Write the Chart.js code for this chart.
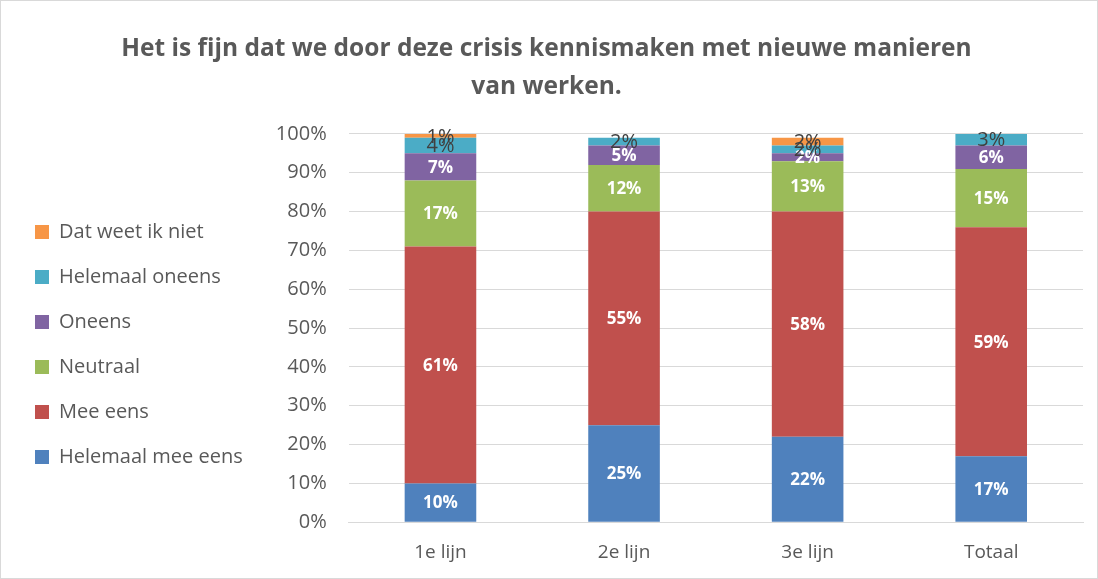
<!DOCTYPE html>
<html>
<head>
<meta charset="utf-8">
<script src="https://cdn.jsdelivr.net/npm/chart.js@4/dist/chart.umd.min.js"></script>
<style>
  html, body { margin: 0; padding: 0; background: #fff; }
  #wrap { position: relative; width: 1096px; height: 577px; border: 1px solid #d9d9d9; }
</style>
</head>
<body>
<div id="wrap"><canvas id="chart"></canvas></div>
<script>
const categories = ["1e lijn", "2e lijn", "3e lijn", "Totaal"];
const helemaalMeeEens = [10, 25, 22, 17];
const meeEens = [61, 55, 58, 59];
const neutraal = [17, 12, 13, 15];
const oneens = [7, 5, 2, 6];
const helemaalOneens = [4, 2, 2, 3];
const datWeetIkNiet = [1, 0, 2, 0];
const yTicks = [0, 10, 20, 30, 40, 50, 60, 70, 80, 90, 100];

const segmentLabels = {
    id: "segmentLabels",
    afterDatasetsDraw(chart) {
        const ctx = chart.ctx;
        chart.data.datasets.forEach(function (ds, i) {
            const meta = chart.getDatasetMeta(i);
            meta.data.forEach(function (bar, j) {
                const v = ds.data[j];
                if (!v) return;
                const y = (bar.y + bar.base) / 2;
                ctx.save();
                ctx.textAlign = "center";
                ctx.textBaseline = "middle";
                if (ds.darkLabel) {
                    ctx.fillStyle = "#404040";
                    ctx.font = "20px 'Open Sans'";
                } else {
                    ctx.fillStyle = "#ffffff";
                    ctx.font = "bold 17px 'Open Sans'";
                }
                ctx.fillText(v + "%", bar.x, y + 1);
                ctx.restore();
            });
        });
    }
};

document.addEventListener("DOMContentLoaded", function () {
    const ctx = document.getElementById("chart").getContext("2d");
    new Chart(ctx, {
        type: "bar",
        data: {
            labels: categories,
            datasets: [
                { label: "Helemaal mee eens", data: helemaalMeeEens, backgroundColor: "#4f81bd" },
                { label: "Mee eens", data: meeEens, backgroundColor: "#c0504d" },
                { label: "Neutraal", data: neutraal, backgroundColor: "#9bbb59" },
                { label: "Oneens", data: oneens, backgroundColor: "#8064a2" },
                { label: "Helemaal oneens", data: helemaalOneens, backgroundColor: "#4bacc6", darkLabel: true },
                { label: "Dat weet ik niet", data: datWeetIkNiet, backgroundColor: "#f79646", darkLabel: true }
            ]
        },
        options: {
            responsive: true,
            maintainAspectRatio: false,
            animation: false,
            datasets: { bar: { barPercentage: 0.39, categoryPercentage: 1.0 } },
            layout: { padding: { left: 9, right: 14, top: 6, bottom: 3 } },
            plugins: {
                title: {
                    display: true,
                    text: ["Het is fijn dat we door deze crisis kennismaken met nieuwe manieren", "van werken."],
                    color: "#595959",
                    font: { family: "'Open Sans'", size: 24.5, weight: "bold", lineHeight: 1.55 },
                    padding: { top: 23, bottom: 28 }
                },
                legend: {
                    position: "left",
                    reverse: true,
                    align: "start",
                    title: { display: true, text: " ", font: { size: 10 }, padding: { top: 178, bottom: 0 } },
                    labels: {
                        color: "#595959",
                        font: { family: "'Open Sans'", size: 20 },
                        boxWidth: 14,
                        boxHeight: 14,
                        padding: 25
                    }
                },
                tooltip: { enabled: false }
            },
            scales: {
                x: {
                    stacked: true,
                    grid: { display: false },
                    border: { color: "#d9d9d9" },
                    ticks: { color: "#595959", font: { family: "'Open Sans'", size: 19 }, padding: 11 }
                },
                y: {
                    stacked: true,
                    min: 0,
                    max: 100,
                    afterBuildTicks: function (axis) {
                        axis.ticks = yTicks.map(function (v) { return { value: v }; });
                    },
                    afterFit: function (axis) { axis.width = 96; },
                    grid: { color: "#d9d9d9", drawTicks: false },
                    border: { display: false },
                    ticks: {
                        color: "#595959",
                        font: { family: "'Open Sans'", size: 20 },
                        padding: 22,
                        callback: function (v) { return v + "%"; }
                    }
                }
            }
        },
        plugins: [segmentLabels]
    });
});
</script>
</body>
</html>
